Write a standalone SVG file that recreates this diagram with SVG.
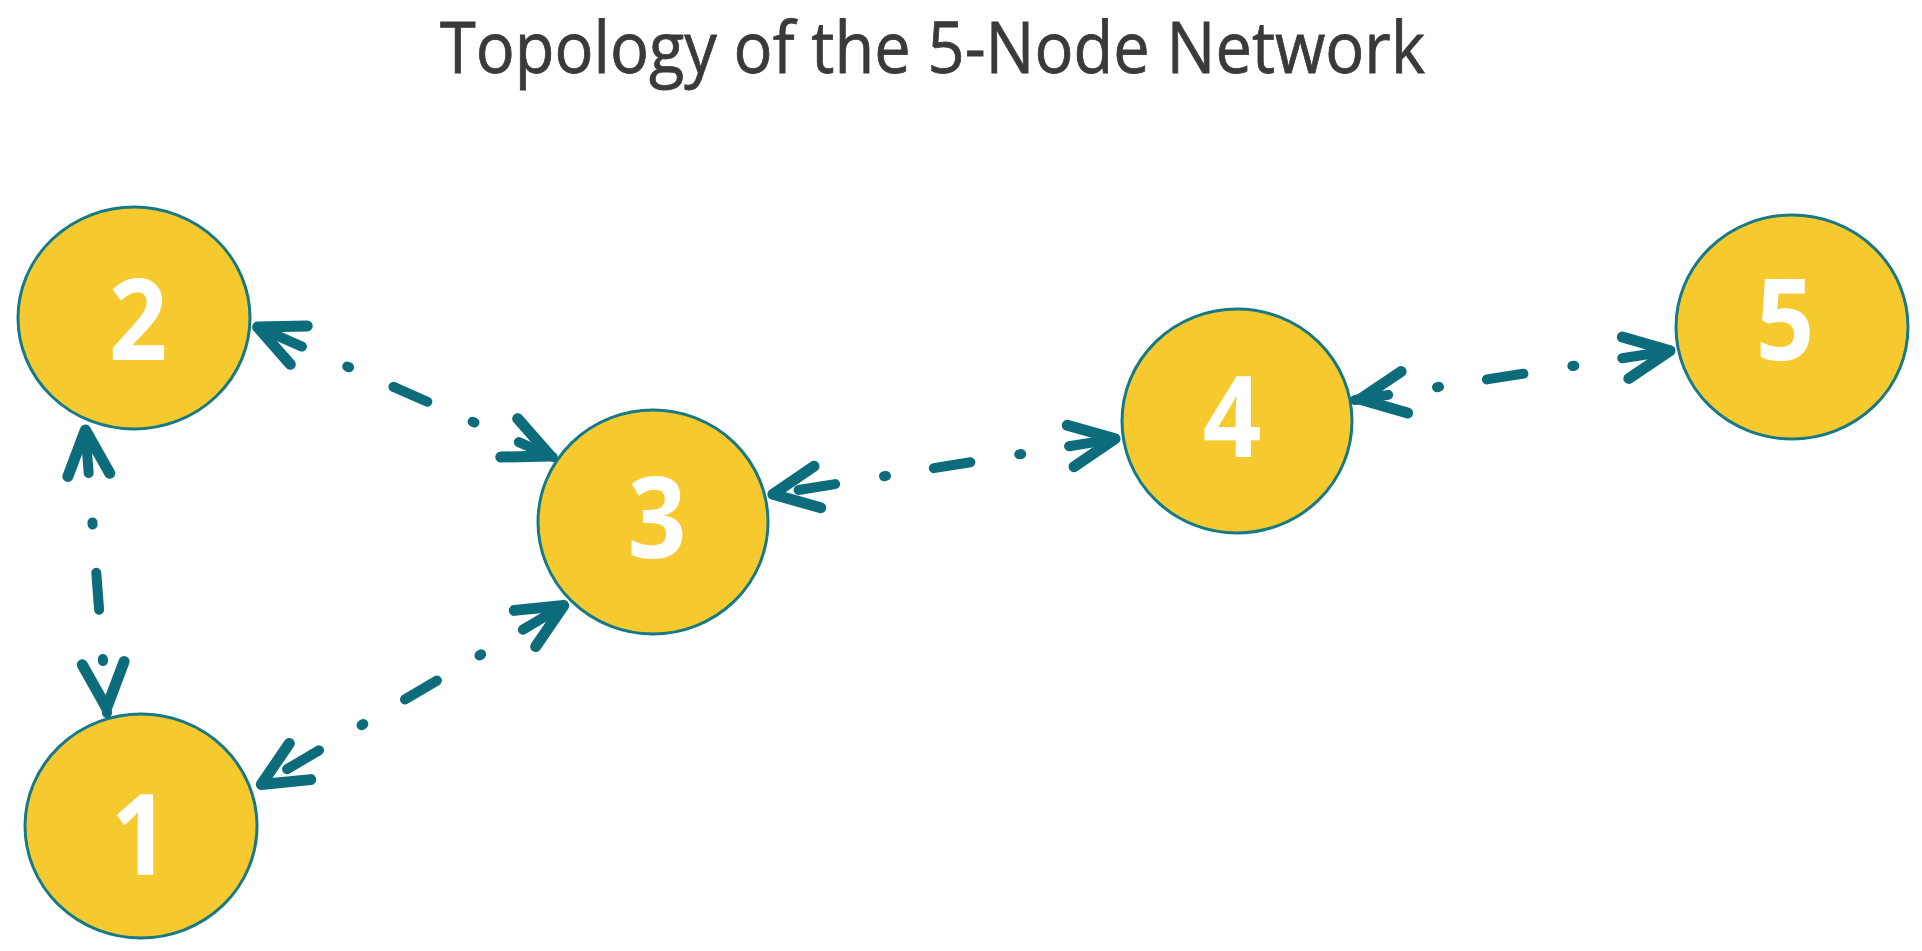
<svg xmlns="http://www.w3.org/2000/svg" width="1922" height="951" viewBox="0 0 1922 951">
<style>
.node ellipse{fill:#F6CA2F;stroke:#167A86;stroke-width:3}
.node text{font-family:"Open Sans","Noto Sans",sans-serif;font-weight:700;font-size:114px;fill:#FFFFFF;text-anchor:middle}
.conn line{stroke:#0C6C7C;stroke-width:10;stroke-linecap:round;fill:none;stroke-dasharray:2 48.5 37 49.5;marker-start:url(#ah);marker-end:url(#ah)}
.title{font-family:"Open Sans","Noto Sans",sans-serif;font-size:71px;fill:#3A3A3A;stroke:#3A3A3A;stroke-width:0.8}
</style>
<defs>
<marker id="ah" markerUnits="userSpaceOnUse" markerWidth="80" markerHeight="80" viewBox="-60 -40 80 80" refX="5" refY="0" orient="auto-start-reverse" overflow="visible">
<path d="M -45,-21 L 0,0 L -45,21" fill="none" stroke="#0C6C7C" stroke-width="11" stroke-linecap="round" stroke-linejoin="round"/>
</marker>
</defs>
<rect width="1922" height="951" fill="#FFFFFF"/>
<text class="title" x="440" y="73" textLength="985" lengthAdjust="spacingAndGlyphs">Topology of the 5-Node Network</text>
<g id="node-2" class="node"><ellipse cx="134" cy="318" rx="116" ry="111"/><text x="138" y="360" transform="translate(138 0) scale(0.9 1) translate(-138 0)">2</text></g>
<g id="node-1" class="node"><ellipse cx="141" cy="826" rx="116" ry="112"/><text x="140" y="875" transform="translate(140 0) scale(0.9 1) translate(-140 0)">1</text></g>
<g id="node-3" class="node"><ellipse cx="653" cy="522" rx="115" ry="112"/><text x="657" y="558" transform="translate(657 0) scale(0.9 1) translate(-657 0)">3</text></g>
<g id="node-4" class="node"><ellipse cx="1237" cy="421" rx="115" ry="112"/><text x="1232" y="457" transform="translate(1232 0) scale(0.9 1) translate(-1232 0)">4</text></g>
<g id="node-5" class="node"><ellipse cx="1792" cy="327" rx="116" ry="112"/><text x="1785" y="360" transform="translate(1785 0) scale(0.9 1) translate(-1785 0)">5</text></g>
<g id="connectors" class="conn">
<line x1="253" y1="325" x2="555" y2="458" stroke-dashoffset="34"/>
<line x1="85" y1="425" x2="107" y2="713" stroke-dashoffset="39.3"/>
<line x1="257" y1="787" x2="568" y2="603" stroke-dashoffset="15.5"/>
<line x1="768" y1="495" x2="1120" y2="438" stroke-dashoffset="19.5"/>
<line x1="1355" y1="400" x2="1675" y2="350" stroke-dashoffset="54"/>
</g>
</svg>
